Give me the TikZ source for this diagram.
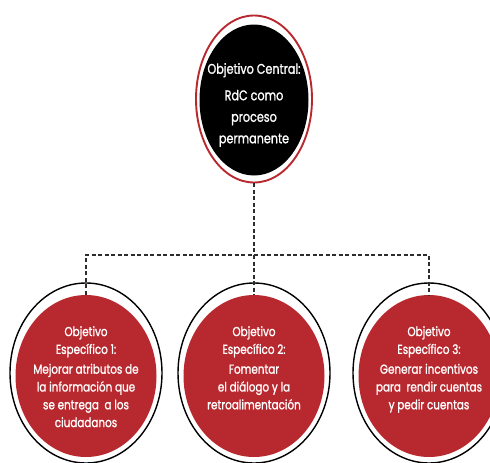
\documentclass[tikz,border=0pt]{standalone}
\usepackage{fontspec}
\setmainfont{Poppins}[FakeStretch=0.8, FakeBold=1.2]
\usepackage{tikz}
\usetikzlibrary{shapes.geometric}
\definecolor{objred}{RGB}{184,41,47}
\definecolor{linkgray}{RGB}{45,45,45}
\tikzset{
  ring/.style={ellipse, draw=black, line width=1.4pt, inner sep=0pt,
    minimum width=152pt, minimum height=180pt},
  topring/.style={ellipse, draw=objred, line width=1.9pt, inner sep=0pt,
    minimum width=116pt, minimum height=167pt},
  centralbox/.style={ellipse, fill=black, inner sep=0pt,
    minimum width=109pt, minimum height=151pt},
  objbox/.style={ellipse, fill=objred, inner sep=0pt,
    minimum width=141pt, minimum height=162pt},
  toptext/.style={text=white, align=center, inner sep=0pt,
    font=\fontsize{14}{21.5}\selectfont},
  objtext/.style={text=white, align=center, inner sep=0pt, anchor=north,
    font=\fontsize{13}{17.8}\selectfont},
  link/.style={draw=linkgray, line width=1.2pt, dash pattern=on 4pt off 2.5pt}
}

\begin{document}
\begin{tikzpicture}[x=1pt, y=-1pt]
  \useasboundingbox (0,0) rectangle (490,463);
  % central objective
  \node[topring] (cring) at (254,99) {};
  \node[centralbox] (central) at (254,100) {};
  \node[toptext] (ctext) at (254,105) {Objetivo Central:\\[5pt]RdC como\\proceso\\permanente};
  % specific objectives
  \node[ring] (ring1) at (86,373) {};
  \node[ring] (ring2) at (254,373) {};
  \node[ring] (ring3) at (429,373) {};
  \node[objbox] (esp1) at (86,376) {};
  \node[objbox] (esp2) at (254,376) {};
  \node[objbox] (esp3) at (429,376) {};
  \node[objtext] (text1) at (86,326) {Objetivo\\Específico 1:\\[2pt]Mejorar atributos de\\la información que\\se entrega\ \ a los\\ciudadanos};
  \node[objtext] (text2) at (254,326) {Objetivo\\Específico 2:\\[2pt]Fomentar\\el diálogo y la\\retroalimentación};
  \node[objtext] (text3) at (429,326) {Objetivo\\Específico 3:\\[2pt]Generar incentivos\\para\ \ rendir cuentas\\y pedir cuentas};
  % dashed tree
  \coordinate (bus) at (254,255);
  \draw[link] (cring.south) -- (bus);
  \draw[link] (esp1.north) |- (bus) -| (esp3.north);
  \draw[link] (bus) -- (esp2.north);
\end{tikzpicture}
\end{document}
